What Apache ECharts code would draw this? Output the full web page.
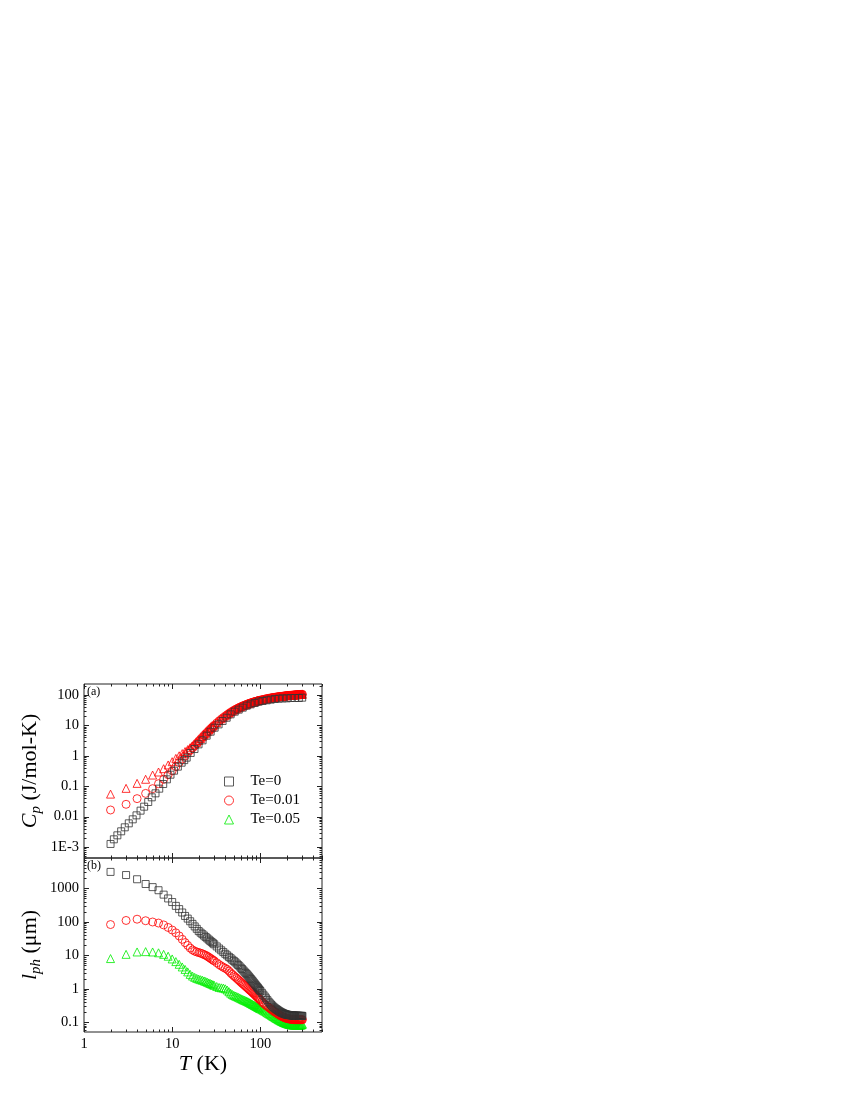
<!DOCTYPE html>
<html><head><meta charset="utf-8">
<script src="https://cdn.jsdelivr.net/npm/echarts@6/dist/echarts.min.js"></script>
<style>html,body{margin:0;padding:0;background:#fff}#c{width:850px;height:1100px}</style>
</head><body><div id="c"></div>
<script>
// ---------------- DATA ----------------
// Panel (a): Te=0 specific heat, its own temperature points
const tempA0 = [2.0, 2.18, 2.39, 2.64, 2.9, 3.22, 3.57, 3.94, 4.38, 4.81, 5.35, 5.87, 6.47, 7.13, 7.91, 8.71, 9.57, 10.5, 11.6, 12.8, 13.7, 14.6, 16.2, 17.9, 19.9, 22.1, 24.6, 27.3, 30.3, 33.6, 37.3, 41.5, 46.0, 51.2, 56.8, 63.1, 70.0, 77.6, 86.3, 95.7, 106, 118, 131, 146, 162, 179, 199, 221, 246, 273, 298];
const cpTe0 = [0.00126, 0.00179, 0.00242, 0.00328, 0.00444, 0.00601, 0.00813, 0.0110, 0.0157, 0.0212, 0.0302, 0.0431, 0.0583, 0.0830, 0.118, 0.168, 0.239, 0.324, 0.440, 0.594, 0.72, 0.869, 1.24, 1.67, 2.38, 3.23, 4.59, 6.22, 8.41, 10.8, 14.0, 17.9, 23.1, 28.3, 33.0, 38.3, 44.6, 49.3, 54.6, 60.4, 63.5, 66.8, 70.2, 73.8, 75.7, 77.6, 77.6, 79.6, 79.6, 79.6, 81.7];

// Shared temperature points (K) for the other series
const tempGrid = [2,3,4,5,6,7,8,9,10,11,12,13,14,15,16,17,18,19,20,21,22,23,24,25,26,27,28,29,30,
  32,34,36,38,40,42,44,46,48,50,52,54,56,58,60,62,64,66,68,70,72,74,76,78,80,82,84,86,88,90,92,94,96,98,100,
  104,108,112,116,120,124,128,132,136,140,144,148,152,156,160,164,168,172,176,180,184,188,192,196,200,
  204,208,212,216,220,224,228,232,236,240,244,248,252,256,260,264,268,272,276,280,284,288,292,296,300];

const cpTe001 = [0.0165,0.0254,0.039,0.058,0.083,0.121,0.169,0.239,0.32,0.44,
  0.6,0.78,0.98,1.22,1.5,1.82,2.18,2.6,3.05,
  3.55,4.1,4.7,5.3,6.0,6.75,7.5,8.3,9.2,10.1,
  12,14,16,18.1,20.2,22.4,24.6,26.8,29,31.2,
  33.3,35.3,37.2,39,40.8,42.6,44.3,46,47.6,49.2,50.7,52.2,53.6,55,56.3,57.6,58.9,60.1,61.3,62.4,63.5,64.6,65.6,66.6,67.6,
  69.5,71.3,73,74.6,76.1,77.5,78.8,80.1,81.3,82.5,83.6,84.6,85.6,86.5,87.4,88.3,89.1,89.9,90.7,91.4,92.1,92.8,93.5,94.1,94.7,
  95.3,95.9,96.4,96.9,97.4,97.9,98.4,98.9,99.3,99.7,100.1,100.5,100.9,101.3,101.7,102.1,102.5,102.8,103.1,103.4,103.7,104,104.3,104.6,104.9];

const cpTe005 = [0.055,0.085,0.124,0.169,0.233,0.293,0.377,0.50,0.64,0.82,
  1.0,1.18,1.38,1.6,1.85,2.12,2.42,2.78,3.2,
  3.7,4.25,4.85,5.5,6.2,7.0,7.8,8.6,9.5,10.4,
  12.4,14.4,16.5,18.6,20.8,23,25.3,27.5,29.8,32,
  34.1,36.2,38.1,40,41.8,43.6,45.3,47,48.6,50.2,51.7,53.2,54.6,56,57.3,58.6,59.9,61.1,62.3,63.4,64.5,65.6,66.6,67.6,68.6,
  70.5,72.3,74,75.6,77.1,78.5,79.8,81.1,82.3,83.5,84.6,85.6,86.6,87.5,88.4,89.3,90.1,90.9,91.7,92.4,93.1,93.8,94.5,95.1,95.7,
  96.3,96.9,97.4,97.9,98.4,98.9,99.4,99.9,100.3,100.7,101.1,101.5,101.9,102.3,102.7,103.1,103.5,103.8,104.1,104.4,104.7,105,105.3,105.6,105.9];

const lphTe0 = [3100,2500,1870,1350,1090,880,650,500,390,300,240,190,150,125,104,87,73,62,53,
  47.5,42.8,38.8,35.1,32.1,29.4,27.0,24.9,23.0,21.3,
  18.4,16.0,14.1,12.5,11.1,10.0,9.0,8.2,7.4,6.8,
  6.2,5.65,5.15,4.7,4.25,3.9,3.55,3.25,2.98,2.75,2.52,2.32,2.13,1.96,1.8,1.67,1.54,1.42,1.31,1.22,1.13,1.06,0.98,0.92,0.86,
  0.76,0.67,0.59,0.52,0.46,0.41,0.37,0.34,0.315,0.29,0.272,0.257,0.245,0.234,0.222,0.213,0.205,0.198,0.192,0.187,0.182,0.178,0.175,0.172,0.169,
  0.167,0.166,0.164,0.163,0.162,0.161,0.16,0.16,0.159,0.158,0.158,0.157,0.157,0.157,0.156,0.156,0.156,0.156,0.155,0.155,0.155,0.155,0.155,0.155,0.155];

const lphTe001 = [83,110,120,108,99,92,81,68,57,47,38,30,24,19.8,16.5,14.5,13.3,12.6,12.1,
  11.6,11.1,10.5,10.0,9.4,8.8,8.2,7.7,7.2,6.8,
  6.0,5.3,4.8,4.4,4.1,3.8,3.4,3.0,2.7,2.45,
  2.24,2.05,1.88,1.73,1.59,1.47,1.37,1.28,1.19,1.11,1.04,0.97,0.91,0.86,0.81,0.76,0.72,0.68,0.64,0.6,0.57,0.54,0.51,0.485,0.46,
  0.415,0.375,0.345,0.32,0.3,0.28,0.262,0.247,0.233,0.22,0.209,0.199,0.19,0.181,0.173,0.167,0.16,0.155,0.15,0.146,0.142,0.138,0.135,0.133,0.131,
  0.129,0.127,0.126,0.125,0.124,0.123,0.122,0.122,0.121,0.121,0.12,0.12,0.12,0.12,0.12,0.12,0.12,0.12,0.12,0.12,0.12,0.12,0.12,0.12,0.12];

const lphTe005 = [8.0,10.7,12.6,12.9,12.6,11.9,10.7,9.4,7.8,6.5,5.4,4.5,3.8,3.2,2.7,2.4,2.2,2.05,1.95,
  1.87,1.8,1.72,1.65,1.57,1.5,1.44,1.38,1.32,1.27,
  1.17,1.1,1.07,1.05,1.0,0.92,0.82,0.74,0.68,0.64,
  0.61,0.585,0.56,0.535,0.51,0.49,0.47,0.455,0.44,0.425,0.41,0.395,0.38,0.365,0.352,0.34,0.328,0.317,0.306,0.296,0.287,0.278,0.27,0.262,0.255,
  0.24,0.227,0.215,0.203,0.192,0.182,0.173,0.164,0.156,0.149,0.142,0.136,0.13,0.125,0.12,0.116,0.112,0.108,0.105,0.102,0.099,0.097,0.095,0.093,0.091,
  0.09,0.088,0.087,0.086,0.085,0.085,0.084,0.084,0.083,0.083,0.083,0.083,0.083,0.083,0.083,0.083,0.083,0.083,0.083,0.083,0.083,0.083,0.084,0.085,0.088];

const xTickLabels = ['1', '10', '100'];
const yTickLabelsA = ['1E-3', '0.01', '0.1', '1', '10', '100'];
const yTickLabelsB = ['0.1', '1', '10', '100', '1000'];
const seriesNames = ['Te=0', 'Te=0.01', 'Te=0.05'];

// ---------------- CHART ----------------
const SERIF = '"Liberation Serif","Times New Roman",serif';
const RED = '#ff0000', GREEN = '#00ee00', BLACK = '#333333', AXIS = '#222222';
const X_RANGE = [1, 500];
const YA_RANGE = [4.35e-4, 230];
const YB_RANGE = [0.0513, 8070];

function expOf(v){ const p = Math.log10(v); const r = Math.round(p); return Math.abs(p - r) < 1e-6 ? r : null; }
function fmtX(v){ const p = expOf(v); return (p === null || p < 0 || p > 2) ? '' : xTickLabels[p]; }
function fmtA(v){ const p = expOf(v); return (p === null || p < -3 || p > 2) ? '' : yTickLabelsA[p + 3]; }
function fmtB(v){ const p = expOf(v); return (p === null || p < -1 || p > 3) ? '' : yTickLabelsB[p + 1]; }

function logTicks(min, max){
  const out = [];
  for (let e = Math.floor(Math.log10(min)) - 1; e <= Math.ceil(Math.log10(max)); e++) {
    for (let m = 1; m <= 9; m++) {
      const v = m * Math.pow(10, e);
      if (v >= min * 0.9999 && v <= max * 1.0001) out.push({v: v, major: m === 1});
    }
  }
  return out;
}

function tickSeries(gi, xr, yr){
  return {
    type: 'custom', xAxisIndex: gi, yAxisIndex: gi, silent: true, clip: false, z: 10,
    data: [[xr[0], yr[0]]],
    renderItem: function(params, api){
      const ch = [];
      const st = {stroke: AXIS, lineWidth: 1};
      logTicks(xr[0], xr[1]).forEach(function(t){
        const len = t.major ? 5 : 2.5;
        const pb = api.coord([t.v, yr[0]]);
        const pt = api.coord([t.v, yr[1]]);
        const x = Math.round(pb[0]) + 0.5;
        ch.push({type: 'line', shape: {x1: x, y1: pb[1], x2: x, y2: pb[1] - len}, style: st});
        ch.push({type: 'line', shape: {x1: x, y1: pt[1], x2: x, y2: pt[1] + len}, style: st});
      });
      logTicks(yr[0], yr[1]).forEach(function(t){
        const len = t.major ? 5 : 2.5;
        const pl = api.coord([xr[0], t.v]);
        const pr = api.coord([xr[1], t.v]);
        const y = Math.round(pl[1]) + 0.5;
        ch.push({type: 'line', shape: {x1: pl[0], y1: y, x2: pl[0] + len, y2: y}, style: st});
        ch.push({type: 'line', shape: {x1: pr[0], y1: y, x2: pr[0] - len, y2: y}, style: st});
      });
      return {type: 'group', children: ch};
    }
  };
}

const hollow = c => ({color: 'rgba(0,0,0,0)', borderColor: c, borderWidth: 1});
const pairs = (xs, ys) => xs.map((x, i) => [x, ys[i]]);

function scatter(name, gi, xs, ys, symbol, size, color){
  return {name: name, type: 'scatter', xAxisIndex: gi, yAxisIndex: gi, data: pairs(xs, ys),
    symbol: symbol, symbolSize: size, itemStyle: hollow(color), emphasis: {disabled: true}};
}

const nameRich = {
  i: {fontFamily: SERIF, fontStyle: 'italic', fontSize: 22, color: '#000'},
  s: {fontFamily: SERIF, fontStyle: 'italic', fontSize: 15, color: '#000', padding: [13, 0, 0, 0]}
};

// sanity check of array lengths (only shows text if something is wrong)
const warn = [];
[['cpTe001', cpTe001], ['cpTe005', cpTe005], ['lphTe0', lphTe0], ['lphTe001', lphTe001], ['lphTe005', lphTe005]].forEach(function(p){
  if (p[1].length !== tempGrid.length) warn.push(p[0] + ':' + p[1].length + '/' + tempGrid.length);
});
if (cpTe0.length !== tempA0.length) warn.push('cpTe0:' + cpTe0.length + '/' + tempA0.length);

const chart = echarts.init(document.getElementById('c'), null, {renderer: 'canvas'});
chart.setOption({
  animation: false,
  backgroundColor: '#fff',
  grid: [
    {left: 84, top: 684, width: 238, height: 174, show: true, borderColor: AXIS, borderWidth: 1, backgroundColor: 'rgba(0,0,0,0)'},
    {left: 84, top: 858, width: 238, height: 174, show: true, borderColor: AXIS, borderWidth: 1, backgroundColor: 'rgba(0,0,0,0)'}
  ],
  xAxis: [
    {gridIndex: 0, type: 'log', logBase: 10, min: X_RANGE[0], max: X_RANGE[1],
     axisLine: {show: false}, axisTick: {show: false}, splitLine: {show: false}, axisLabel: {show: false}},
    {gridIndex: 1, type: 'log', logBase: 10, min: X_RANGE[0], max: X_RANGE[1],
     axisLine: {show: false}, axisTick: {show: false}, splitLine: {show: false},
     axisLabel: {fontFamily: SERIF, fontSize: 14.5, color: '#000', margin: 5, formatter: fmtX},
     name: '{i|T} (K)', nameLocation: 'middle', nameGap: 17,
     nameTextStyle: {fontFamily: SERIF, fontSize: 22, color: '#000', rich: nameRich}}
  ],
  yAxis: [
    {gridIndex: 0, type: 'log', logBase: 10, min: YA_RANGE[0], max: YA_RANGE[1],
     axisLine: {show: false}, axisTick: {show: false}, splitLine: {show: false},
     axisLabel: {fontFamily: SERIF, fontSize: 14.5, color: '#000', margin: 5, formatter: fmtA},
     name: '{i|C}{s|p} (J/mol-K)', nameLocation: 'middle', nameGap: 40, nameRotate: 90,
     nameTextStyle: {fontFamily: SERIF, fontSize: 22, color: '#000', rich: nameRich}},
    {gridIndex: 1, type: 'log', logBase: 10, min: YB_RANGE[0], max: YB_RANGE[1],
     axisLine: {show: false}, axisTick: {show: false}, splitLine: {show: false},
     axisLabel: {fontFamily: SERIF, fontSize: 14.5, color: '#000', margin: 5, formatter: fmtB},
     name: '{i|l}{s|ph} (\u03bcm)', nameLocation: 'middle', nameGap: 40, nameRotate: 90,
     nameTextStyle: {fontFamily: SERIF, fontSize: 22, color: '#000', rich: nameRich}}
  ],
  legend: {
    orient: 'vertical', left: 219, top: 769, itemWidth: 9, itemHeight: 9, itemGap: 4,
    selectedMode: false,
    textStyle: {fontFamily: SERIF, fontSize: 15, color: '#000', padding: [0, 0, 0, 12]},
    data: [
      {name: seriesNames[0], icon: 'rect', itemStyle: hollow(BLACK)},
      {name: seriesNames[1], icon: 'circle', itemStyle: hollow(RED)},
      {name: seriesNames[2], icon: 'triangle', itemStyle: hollow(GREEN)}
    ]
  },
  graphic: [
    {type: 'text', left: 87, top: 686, style: {text: '(a)', font: '12px ' + SERIF, fill: '#000'}},
    {type: 'text', left: 87, top: 860, style: {text: '(b)', font: '12px ' + SERIF, fill: '#000'}},
    {type: 'text', left: 400, top: 20, style: {text: warn.join('  '), font: '12px sans-serif', fill: '#c00'}}
  ],
  series: [
    scatter(seriesNames[2], 1, tempGrid, lphTe005, 'triangle', 8, GREEN),
    scatter(seriesNames[1], 1, tempGrid, lphTe001, 'circle', 8, RED),
    scatter(seriesNames[0], 1, tempGrid, lphTe0, 'rect', 7, BLACK),
    scatter(seriesNames[2], 0, tempGrid, cpTe005, 'triangle', 8, RED),
    scatter(seriesNames[1], 0, tempGrid, cpTe001, 'circle', 8, RED),
    scatter(seriesNames[0], 0, tempA0, cpTe0, 'rect', 7, BLACK),
    tickSeries(0, X_RANGE, YA_RANGE),
    tickSeries(1, X_RANGE, YB_RANGE)
  ]
});
</script>
</body></html>
